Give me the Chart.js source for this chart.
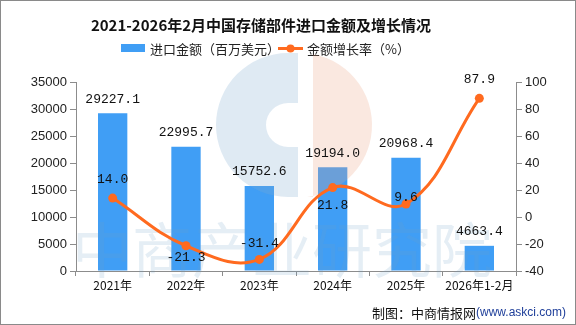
<!DOCTYPE html>
<html>
<head>
<meta charset="utf-8">
<script src="https://cdn.jsdelivr.net/npm/chart.js@4/dist/chart.umd.min.js"></script>
<style>
  html, body { margin: 0; padding: 0; background: #fff; }
  #wrap { width: 576px; height: 325px; position: relative; }
</style>
</head>
<body>
<div id="wrap"><canvas id="myChart" width="576" height="325"></canvas></div>
<script>
// data
const years = ["2021年", "2022年", "2023年", "2024年", "2025年", "2026年1-2月"];
const importValue = [29227.1, 22995.7, 15752.6, 19194.0, 20968.4, 4663.4];
const growthRate = [14.0, -21.3, -31.4, 21.8, 9.6, 87.9];
const leftTicks = [0, 5000, 10000, 15000, 20000, 25000, 30000, 35000];
const rightTicks = [-40, -20, 0, 20, 40, 60, 80, 100];

const titleText = "2021-2026年2月中国存储部件进口金额及增长情况";
const barLabel = "进口金额（百万美元）";
const lineLabel = "金额增长率（%）";

const barColor = "#409ef5";
const lineColor = "#ff6a1f";
const axisColor = "#8c8c8c";
const cjk = "'Noto Sans CJK SC', 'Noto Sans', sans-serif";
const mono = "'Liberation Mono', 'DejaVu Sans Mono', monospace";

// where each growth label sits relative to its point (y offset px)
const lineLabelDy = [-19, 12, -16, 18, -6, -19];

const decor = {
  id: "decor",
  beforeDraw(chart) {
    const c = chart.ctx;
    c.save();
    c.fillStyle = "#fff";
    c.fillRect(0, 0, chart.width, chart.height);
    c.strokeStyle = "#8a8a8a";
    c.lineWidth = 1;
    c.strokeRect(0.5, 0.5, chart.width - 1, chart.height - 1);

    // title
    c.fillStyle = "#111";
    c.font = "bold 15px " + cjk;
    c.textAlign = "center";
    c.textBaseline = "middle";
    c.fillText(titleText, 261, 25);

    // legend
    c.font = "13px " + cjk;
    c.textAlign = "left";
    c.fillStyle = barColor;
    c.fillRect(121, 44, 24, 8);
    c.fillStyle = "#222";
    c.fillText(barLabel, 150, 49);
    c.strokeStyle = lineColor;
    c.lineWidth = 3;
    c.beginPath(); c.moveTo(278, 48.5); c.lineTo(303, 48.5); c.stroke();
    c.fillStyle = lineColor;
    c.beginPath(); c.arc(290.5, 48.5, 4, 0, Math.PI * 2); c.fill();
    c.fillStyle = "#222";
    c.fillText(lineLabel, 307, 49);

    // footer
    c.textAlign = "right";
    c.font = "12px 'Liberation Sans', sans-serif";
    c.fillStyle = "#1f3f9a";
    const src = "(www.askci.com)";
    c.fillText(src, 566, 313);
    const w = c.measureText(src).width;
    c.font = "13px " + cjk;
    c.fillStyle = "#111";
    c.fillText("制图：中商情报网", 566 - w, 313);
    c.restore();
  },
  beforeDatasetDraw(chart, args) {
    if (args.index !== 1) return;
    // faint watermark between bars and line
    const c = chart.ctx;
    c.save();
    c.globalAlpha = 0.25;
    c.fillStyle = "#7fadd0";
    c.beginPath();
    c.arc(288, 125, 72, Math.PI * 0.5, Math.PI * 1.5);
    c.lineTo(298, 53); c.lineTo(298, 103);
    c.arc(288, 125, 22, Math.PI * 1.5, Math.PI * 0.5, true);
    c.lineTo(298, 147); c.lineTo(298, 197);
    c.closePath();
    c.fill();
    c.fillStyle = "#eca283";
    c.beginPath();
    c.moveTo(313, 53);
    c.arc(300, 125, 72, Math.PI * 1.5 + 0.18, Math.PI * 0.5 - 0.1);
    c.lineTo(313, 197);
    c.closePath();
    c.fill();
    c.globalAlpha = 0.18;
    c.fillStyle = "#6f9fc8";
    c.font = "60px " + cjk;
    c.textAlign = "center";
    c.textBaseline = "middle";
    c.fillText("中商产业研究院", 282, 250);
    c.restore();
  },
  afterDatasetsDraw(chart) {
    const c = chart.ctx;
    c.save();
    c.font = "13px " + mono;
    c.fillStyle = "#111";
    c.textAlign = "center";
    c.textBaseline = "middle";
    chart.getDatasetMeta(0).data.forEach((el, i) => {
      c.fillText(importValue[i].toFixed(1), el.x, el.y - 14);
    });
    chart.getDatasetMeta(1).data.forEach((el, i) => {
      c.fillText(growthRate[i].toFixed(1), el.x, el.y + lineLabelDy[i]);
    });
    c.restore();
  }
};

const ctx = document.getElementById("myChart").getContext("2d");
const chart = new Chart(ctx, {
  type: "bar",
  data: {
    labels: years,
    datasets: [
      {
        type: "bar",
        label: barLabel,
        data: importValue,
        backgroundColor: barColor,
        yAxisID: "y",
        barPercentage: 0.5,
        categoryPercentage: 0.8,
        order: 2
      },
      {
        type: "line",
        label: lineLabel,
        data: growthRate,
        borderColor: lineColor,
        backgroundColor: lineColor,
        borderWidth: 3,
        pointRadius: 4.5,
        pointBackgroundColor: lineColor,
        pointBorderWidth: 0,
        tension: 0.4,
        yAxisID: "y1",
        order: 1
      }
    ]
  },
  options: {
    responsive: false,
    animation: false,
    layout: { padding: { top: 82, left: 0, right: 0, bottom: 0 } },
    plugins: {
      legend: { display: false },
      title: { display: false },
      tooltip: { enabled: false }
    },
    scales: {
      x: {
        grid: { display: true, drawOnChartArea: false, color: axisColor, tickLength: 5, offset: true },
        border: { color: axisColor },
        ticks: { color: "#111", font: { size: 12, family: cjk }, padding: 2, maxRotation: 0 },
        afterFit(s) { s.height = 54; }
      },
      y: {
        position: "left",
        min: 0, max: 35000,
        afterBuildTicks(s) { s.ticks = leftTicks.map(v => ({ value: v })); },
        grid: { drawOnChartArea: false, color: axisColor, tickLength: 6 },
        border: { color: axisColor },
        ticks: { color: "#222", font: { size: 13, family: "'Liberation Sans', sans-serif" }, padding: 3, callback: v => String(v) },
        afterFit(s) { s.width = 76; }
      },
      y1: {
        position: "right",
        min: -40, max: 100,
        afterBuildTicks(s) { s.ticks = rightTicks.map(v => ({ value: v })); },
        grid: { drawOnChartArea: false, color: axisColor, tickLength: 6 },
        border: { color: axisColor },
        ticks: { color: "#222", font: { size: 13, family: "'Liberation Sans', sans-serif" }, padding: 3, callback: v => String(v) },
        afterFit(s) { s.width = 60; }
      }
    }
  },
  plugins: [decor]
});
</script>
</body>
</html>
